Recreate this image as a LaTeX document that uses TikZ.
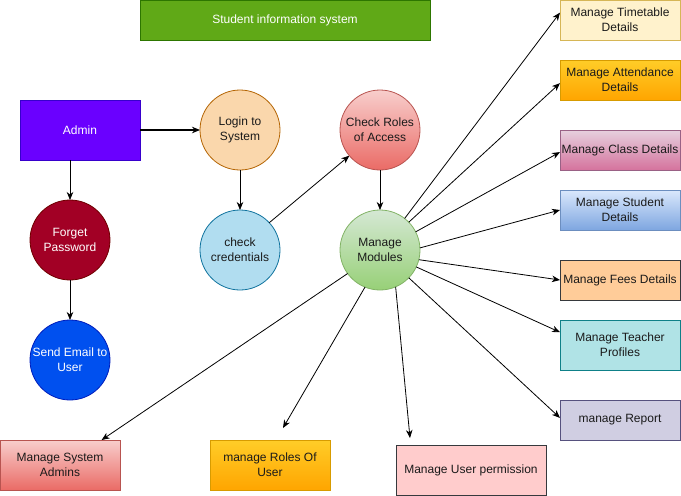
\documentclass[tikz,border=0pt]{standalone}
\usepackage{fontspec}
\setmainfont{Liberation Sans}
\usetikzlibrary{arrows.meta}
\definecolor{titlefill}{HTML}{60A917}
\definecolor{titleline}{HTML}{2D7600}
\definecolor{admfill}{HTML}{6A00FF}
\definecolor{admline}{HTML}{3700CC}
\definecolor{loginfill}{HTML}{FAD7AC}
\definecolor{loginline}{HTML}{B46504}
\definecolor{redtop}{HTML}{F8CECC}
\definecolor{redbot}{HTML}{EA6B66}
\definecolor{redline}{HTML}{B85450}
\definecolor{forgetfill}{HTML}{A20025}
\definecolor{forgetline}{HTML}{6F0000}
\definecolor{credfill}{HTML}{B1DDF0}
\definecolor{credline}{HTML}{10739E}
\definecolor{greentop}{HTML}{D5E8D4}
\definecolor{greenbot}{HTML}{97D077}
\definecolor{greenline}{HTML}{82B366}
\definecolor{emailfill}{HTML}{0050EF}
\definecolor{emailline}{HTML}{001DBC}
\definecolor{ttfill}{HTML}{FFF2CC}
\definecolor{ttline}{HTML}{D6B656}
\definecolor{orangetop}{HTML}{FFCD28}
\definecolor{orangebot}{HTML}{FFA500}
\definecolor{orangeline}{HTML}{D79B00}
\definecolor{pinktop}{HTML}{E6D0DE}
\definecolor{pinkbot}{HTML}{D5739D}
\definecolor{pinkline}{HTML}{996185}
\definecolor{bluetop}{HTML}{DAE8FC}
\definecolor{bluebot}{HTML}{7EA6E0}
\definecolor{blueline}{HTML}{6C8EBF}
\definecolor{feesfill}{HTML}{FFCC99}
\definecolor{darkline}{HTML}{36393D}
\definecolor{tchfill}{HTML}{B0E3E6}
\definecolor{tchline}{HTML}{0E8088}
\definecolor{repfill}{HTML}{D0CEE2}
\definecolor{repline}{HTML}{56517E}
\definecolor{permfill}{HTML}{FFCCCC}
\definecolor{inktext}{HTML}{1A1A1A}
\begin{document}
\begin{tikzpicture}[x=1pt,y=-1pt,
  every node/.style={font=\fontsize{12}{15}\selectfont, align=center, inner sep=0pt, outer sep=0pt, text=inktext},
  bubble/.style={circle, minimum size=80pt, draw, line width=0.8pt},
  box/.style={rectangle, minimum width=120pt, minimum height=40pt, draw, line width=0.8pt},
  tallbox/.style={box, minimum height=50pt},
  flow/.style={draw=black, line width=0.8pt, -{Stealth[length=8pt,width=6.5pt,inset=2.5pt]}}]
\useasboundingbox (0,0) rectangle (681,496);
\node[box, minimum width=290pt, fill=titlefill, draw=titleline, text=white] (title) at (285,20) {Student information system};
\node[box, minimum height=60pt, fill=admfill, draw=admline, text=white] (adm) at (80,130) {Admin};
\node[bubble, fill=loginfill, draw=loginline] (login) at (240,130) {Login to\\System};
\node[bubble, top color=redtop, bottom color=redbot, draw=redline] (roles) at (380,130) {Check Roles\\of Access};
\node[bubble, fill=forgetfill, draw=forgetline, text=white] (forget) at (70,240) {Forget\\Password};
\node[bubble, fill=credfill, draw=credline] (cred) at (240,250) {check\\credentials};
\node[bubble, top color=greentop, bottom color=greenbot, draw=greenline] (mods) at (380,250) {Manage\\Modules};
\node[bubble, fill=emailfill, draw=emailline, text=white] (email) at (70,360) {Send Email to\\User};
\node[box, fill=ttfill, draw=ttline] (tt) at (620,20) {Manage Timetable\\Details};
\node[box, top color=orangetop, bottom color=orangebot, draw=orangeline] (att) at (620,80) {Manage Attendance\\Details};
\node[box, top color=pinktop, bottom color=pinkbot, draw=pinkline] (cls) at (620,150) {Manage Class Details};
\node[box, top color=bluetop, bottom color=bluebot, draw=blueline] (stu) at (620,210) {Manage Student\\Details};
\node[box, fill=feesfill, draw=darkline] (fees) at (620,280) {Manage Fees Details};
\node[tallbox, fill=tchfill, draw=tchline] (tch) at (620,345) {Manage Teacher\\Profiles};
\node[box, fill=repfill, draw=repline] (rep) at (620,420) {manage Report};
\node[tallbox, top color=redtop, bottom color=redbot, draw=redline] (sysadm) at (60,465) {Manage System\\Admins};
\node[tallbox, top color=orangetop, bottom color=orangebot, draw=orangeline] (rolesu) at (270,465) {manage Roles Of\\User};
\node[tallbox, minimum width=150pt, fill=permfill, draw=darkline] (perm) at (471,470) {Manage User permission};
\coordinate (rolesuend) at (283,428);
\coordinate (permend) at (410,438);
\draw[flow, line width=1.1pt] (adm.east) -- (login.west);
\draw[flow] (adm.south -| forget.north) -- (forget.north);
\draw[flow] (forget.south) -- (email.north);
\draw[flow] (login.south) -- (cred.north);
\draw[flow] (cred.43) -- (roles.220);
\draw[flow] (roles.south) -- (mods.north);
\draw[flow] (mods.52) -- (tt.173);
\draw[flow] (mods.44) -- (att.183);
\draw[flow] (mods.27) -- (cls.182);
\draw[flow] (mods.3) -- (stu.west);
\draw[flow] (mods.-14) -- (fees.west);
\draw[flow] (mods.-25) -- (tch.168);
\draw[flow] (mods.-44) -- (rep.178);
\draw[flow] (mods.-67) -- (permend);
\draw[flow] (mods.-112) -- (rolesuend);
\draw[flow] (mods.-144) -- (sysadm.31);
\end{tikzpicture}
\end{document}
